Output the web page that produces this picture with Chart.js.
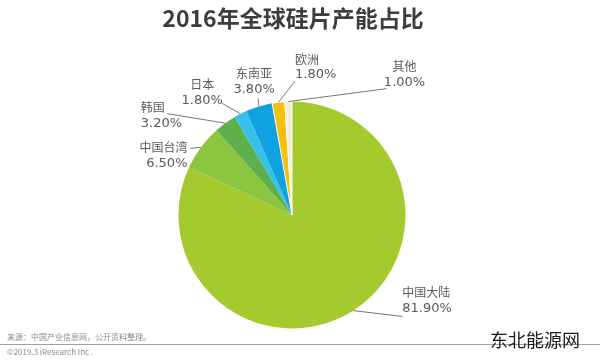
<!DOCTYPE html>
<html><head><meta charset="utf-8">
<script src="https://cdn.jsdelivr.net/npm/chart.js@4/dist/chart.umd.min.js"></script>
<style>html,body{margin:0;padding:0;background:#fff}#wrap{width:600px;height:360px;position:relative}</style>
</head><body><div id="wrap"><canvas id="c"></canvas></div>
<script>
const categories = ['中国大陆','中国台湾','韩国','日本','东南亚','欧洲','其他'];
const shares = [81.9, 6.5, 3.2, 1.8, 3.8, 1.8, 1.0];
const shareLabels = ['81.90%','6.50%','3.20%','1.80%','3.80%','1.80%','1.00%'];
const sliceColors = ['#a5ca2e','#8cc540','#5db04c','#35c1ea','#10a2e0','#f7c00f','#f1efdc'];

// label layout: line end at (angle deg clockwise from top, distance factor of radius), text offsets
const labelLayout = [
  {a:132.6, f:1.32, align:'left',   tx:0,   ty:-24},
  {a:303.3, f:1.07, align:'right',  tx:-3,  ty:-1},
  {a:309,   f:1.42, align:'left',   tx:-26, ty:-6},
  {a:328,   f:1.16, align:'center', tx:-20, ty:-19},
  {a:343.8, f:1.07, align:'center', tx:-4,  ty:-25},
  {a:1.3,   f:1.18, align:'left',   tx:0,   ty:-22},
  {a:36.8,  f:1.39, align:'center', tx:18,  ty:-22}
];

const decor = {
  id:'decor',
  afterDraw(chart){
    const ctx = chart.ctx;
    const meta = chart.getDatasetMeta(0);
    ctx.save();
    meta.data.forEach((arc, i) => {
      const p = arc.getProps(['x','y','startAngle','endAngle','outerRadius'], true);
      const mid = (p.startAngle + p.endAngle) / 2;
      const sx = p.x + Math.cos(mid) * p.outerRadius;
      const sy = p.y + Math.sin(mid) * p.outerRadius;
      const L = labelLayout[i];
      const ang = (L.a - 90) * Math.PI / 180;
      const ex = p.x + Math.cos(ang) * p.outerRadius * L.f;
      const ey = p.y + Math.sin(ang) * p.outerRadius * L.f;
      ctx.strokeStyle = '#777777';
      ctx.lineWidth = 1;
      ctx.beginPath(); ctx.moveTo(sx, sy); ctx.lineTo(ex, ey); ctx.stroke();
      ctx.fillStyle = '#5a5a5a';
      ctx.font = '12px "Noto Sans CJK SC", "DejaVu Sans", sans-serif';
      ctx.textAlign = L.align;
      ctx.textBaseline = 'middle';
      ctx.fillText(categories[i], ex + L.tx, ey + L.ty);
      ctx.font = '13px "DejaVu Sans", "Noto Sans", sans-serif';
      ctx.fillText(shareLabels[i], ex + L.tx, ey + L.ty + 16);
    });
    ctx.fillStyle = '#3d3d3d';
    ctx.font = 'bold 23px "Noto Sans CJK SC", sans-serif';
    ctx.textAlign = 'center';
    ctx.textBaseline = 'middle';
    ctx.fillText('2016年全球硅片产能占比', 293, 18);
    ctx.fillStyle = '#8a8a8a';
    ctx.font = '8px "Noto Sans CJK SC", sans-serif';
    ctx.textAlign = 'left';
    ctx.fillText('来源：中国产业信息网，公开资料整理。', 7, 337);
    ctx.fillText('©2019.3 iResearch Inc .', 7, 352);
    ctx.strokeStyle = '#a0a0a0';
    ctx.lineWidth = 1;
    ctx.beginPath(); ctx.moveTo(0, 344.5); ctx.lineTo(600, 344.5); ctx.stroke();
    ctx.fillStyle = '#1a1a1a';
    ctx.font = '18px "Noto Sans CJK SC", sans-serif';
    ctx.textAlign = 'left';
    ctx.fillText('东北能源网', 490, 340);
    ctx.restore();
  }
};

new Chart(document.getElementById('c'), {
  type: 'pie',
  data: {
    labels: categories,
    datasets: [{
      data: shares,
      backgroundColor: sliceColors,
      borderColor: '#ffffff',
      borderWidth: [0, 0, 0, 0, 0, 1, 1],
      hoverOffset: 0
    }]
  },
  options: {
    responsive: true,
    maintainAspectRatio: false,
    animation: false,
    events: [],
    layout: { padding: { left: 178, right: 194, top: 101, bottom: 31 } },
    plugins: { legend: { display: false }, tooltip: { enabled: false }, title: { display: false } }
  },
  plugins: [decor]
});
</script>
</body></html>
